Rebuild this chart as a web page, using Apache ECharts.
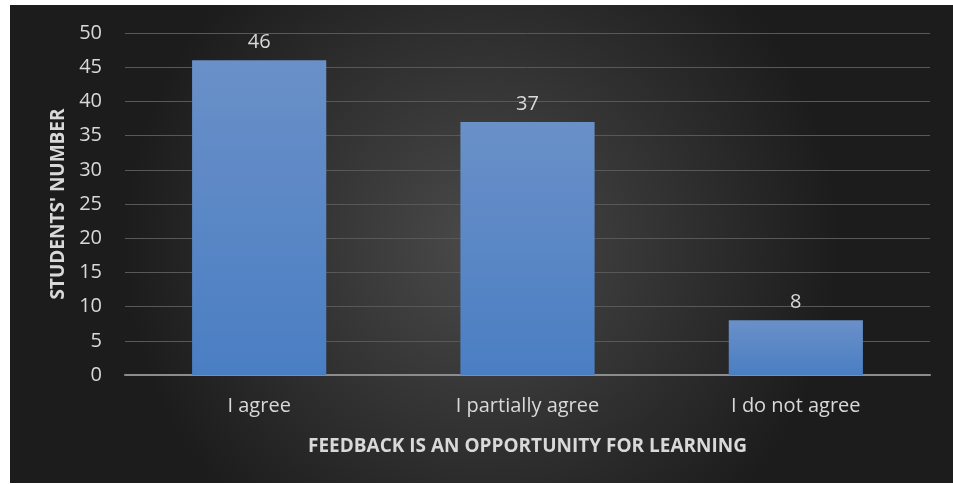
<!DOCTYPE html>
<html>
<head>
<meta charset="utf-8">
<script src="https://cdn.jsdelivr.net/npm/echarts@6/dist/echarts.min.js"></script>
<style>
  html, body { margin: 0; padding: 0; background: #ffffff; }
  #chart { position: absolute; left: 10px; top: 5px; width: 943px; height: 478px; }
</style>
</head>
<body>
<div id="chart"></div>
<script>
// 数据
const categories = ['I agree', 'I partially agree', 'I do not agree'];
const students = [46, 37, 8];

const chart = echarts.init(document.getElementById('chart'));
const font = '"Open Sans", "Liberation Sans", sans-serif';

const option = {
  animation: false,
  backgroundColor: {
    type: 'radial', x: 0.5, y: 0.5, r: 0.75,
    colorStops: [
      { offset: 0, color: '#4a4a4a' },
      { offset: 1, color: '#1c1c1c' }
    ]
  },
  grid: { left: 115, right: 23, top: 28, bottom: 108 },
  xAxis: {
    type: 'category',
    data: categories,
    name: 'FEEDBACK IS AN OPPORTUNITY FOR LEARNING',
    nameLocation: 'middle',
    nameGap: 62,
    nameTextStyle: { color: '#d9d9d9', fontSize: 19, fontWeight: 'bold', fontFamily: font },
    axisLine: { lineStyle: { color: '#8c8c8c', width: 2 } },
    axisTick: { show: false },
    axisLabel: { color: '#d9d9d9', fontSize: 20, fontFamily: font, margin: 21 }
  },
  yAxis: {
    type: 'value',
    min: 0, max: 50, interval: 5,
    name: "STUDENTS' NUMBER",
    nameLocation: 'middle',
    nameGap: 55,
    nameRotate: 90,
    nameTextStyle: { color: '#d9d9d9', fontSize: 19, fontWeight: 'bold', fontFamily: font },
    axisLine: { show: false },
    axisTick: { show: false },
    axisLabel: { color: '#d9d9d9', fontSize: 20, fontFamily: font, margin: 23 },
    splitLine: { lineStyle: { color: '#585858', width: 1 } }
  },
  series: [{
    type: 'bar',
    data: students,
    barCategoryGap: '50%',
    itemStyle: {
      color: {
        type: 'linear', x: 0, y: 0, x2: 0, y2: 1,
        colorStops: [
          { offset: 0, color: '#6a90c8' },
          { offset: 1, color: '#4a7ec3' }
        ]
      }
    },
    label: {
      show: true, position: 'top', distance: 8,
      color: '#d9d9d9', fontSize: 20, fontFamily: font
    }
  }]
};

chart.setOption(option);
</script>
</body>
</html>
